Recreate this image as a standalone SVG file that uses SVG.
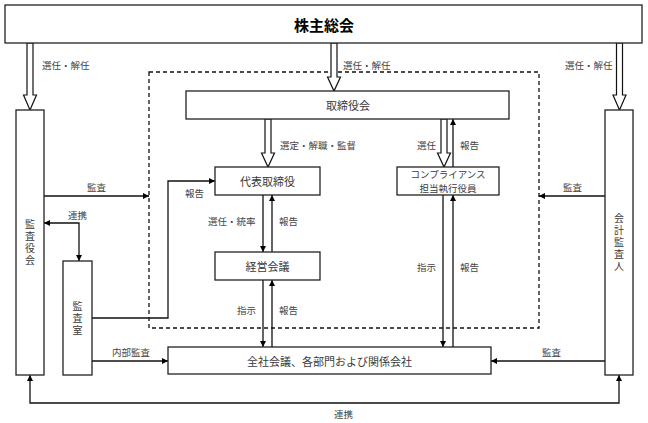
<svg xmlns="http://www.w3.org/2000/svg" width="648" height="423" viewBox="0 0 648 423">
<defs>
<marker id="ah" viewBox="0 0 10 10" refX="10" refY="5" markerWidth="6" markerHeight="6" markerUnits="userSpaceOnUse" orient="auto-start-reverse">
<path d="M0,0 L10,5 L0,10 z" fill="#000"/>
</marker>
<style>
.box{fill:#fff;stroke:#222;stroke-width:1.3}
.t{font-family:"Noto Sans CJK JP","Noto Sans",sans-serif;font-size:11px;fill:#3a3a3a;text-anchor:middle;dominant-baseline:central}
.vt{font-family:"Noto Sans CJK JP","Noto Sans",sans-serif;font-size:10px;fill:#3a3a3a;text-anchor:middle;writing-mode:vertical-rl;letter-spacing:2px}
.lb{font-family:"Noto Sans CJK JP","Noto Sans",sans-serif;font-size:9.5px;fill:#444;dominant-baseline:central}
.ln{fill:none;stroke:#111;stroke-width:1.3}
.ar{marker-end:url(#ah)}
.da{marker-start:url(#ah);marker-end:url(#ah)}
.hollow{fill:#fff;stroke:#111;stroke-width:1.2}
.dash{fill:none;stroke:#111;stroke-width:1.3;stroke-dasharray:4 3}
</style>
</defs>
<rect width="648" height="423" fill="#fff"/>

<rect id="scope" class="dash" x="149" y="72" width="390" height="256"/>

<g id="connectors">
<line class="ln ar" x1="44" y1="196" x2="149" y2="196"/>
<line class="ln ar" x1="605" y1="196" x2="539" y2="196"/>
<polyline class="ln da" points="44,223 79,223 79,261"/>
<polyline class="ln ar" points="92,318 168,318 168,181 215,181"/>
<line class="ln ar" x1="92" y1="361" x2="168" y2="361"/>
<line class="ln ar" x1="605" y1="361" x2="491" y2="361"/>
<polyline class="ln da" points="30,375 30,403 619,403 619,375"/>
<line class="ln ar" x1="263" y1="195" x2="263" y2="252"/>
<line class="ln ar" x1="272" y1="252" x2="272" y2="195"/>
<line class="ln ar" x1="263" y1="280" x2="263" y2="347"/>
<line class="ln ar" x1="272" y1="347" x2="272" y2="280"/>
<line class="ln ar" x1="453" y1="167" x2="453" y2="119"/>
<line class="ln ar" x1="443" y1="195" x2="443" y2="347"/>
<line class="ln ar" x1="453" y1="347" x2="453" y2="195"/>
<polygon class="hollow" points="27,43 27,95 23.5,95 30,110 36.5,95 33,95 33,43"/>
<polygon class="hollow" points="331,43 331,77 327.5,77 334,91 340.5,77 337,77 337,43"/>
<polygon class="hollow" points="616.5,43 616.5,95 613,95 619.5,110 626,95 622.5,95 622.5,43"/>
<polygon class="hollow" points="265,119 265,153 261.5,153 268,167 274.5,153 271,153 271,119"/>
<polygon class="hollow" points="441,119 441,153 437.5,153 444,167 450.5,153 447,153 447,119"/>
</g>

<g id="labels">
<text class="lb" x="42" y="65">選任・解任</text>
<text class="lb" x="343" y="65">選任・解任</text>
<text class="lb" x="565" y="65">選任・解任</text>
<text class="lb" x="280" y="145">選定・解職・監督</text>
<text class="lb" x="417" y="145">選任</text>
<text class="lb" x="460" y="145">報告</text>
<text class="lb" x="87" y="187">監査</text>
<text class="lb" x="563" y="187">監査</text>
<text class="lb" x="68" y="215">連携</text>
<text class="lb" x="185" y="193">報告</text>
<text class="lb" x="208" y="221">選任・統率</text>
<text class="lb" x="279" y="221">報告</text>
<text class="lb" x="237" y="310">指示</text>
<text class="lb" x="279" y="310">報告</text>
<text class="lb" x="417" y="267">指示</text>
<text class="lb" x="460" y="267">報告</text>
<text class="lb" x="112" y="352">内部監査</text>
<text class="lb" x="542" y="352">監査</text>
<text class="lb" x="334" y="414">連携</text>
</g>

<g id="shareholders">
<rect class="box" x="5" y="5" width="637" height="38" stroke-width="1.6"/>
<text class="t" x="324" y="24" style="font-size:15px;font-weight:bold;fill:#000">株主総会</text>
</g>
<g id="board">
<rect class="box" x="186" y="91" width="323" height="28"/>
<text class="t" x="348" y="105">取締役会</text>
</g>
<g id="representative">
<rect class="box" x="215" y="167" width="105" height="28"/>
<text class="t" x="267.5" y="181">代表取締役</text>
</g>
<g id="management">
<rect class="box" x="215" y="252" width="105" height="28"/>
<text class="t" x="267.5" y="266">経営会議</text>
</g>
<g id="compliance">
<rect class="box" x="397" y="167" width="102" height="28"/>
<text class="t" style="font-size:9.5px"><tspan x="448" y="174">コンプライアンス</tspan><tspan x="448" y="188">担当執行役員</tspan></text>
</g>
<g id="company">
<rect class="box" x="168" y="347" width="323" height="27"/>
<text class="t" x="329.5" y="361">全社会議、各部門および関係会社</text>
</g>
<g id="auditboard">
<rect class="box" x="16" y="110" width="28" height="265"/>
<text class="vt" x="30" y="243.5">監査役会</text>
</g>
<g id="auditoffice">
<rect class="box" x="63" y="261" width="29" height="114"/>
<text class="vt" x="77.5" y="319">監査室</text>
</g>
<g id="accountant">
<rect class="box" x="605" y="110" width="28" height="265"/>
<text class="vt" x="619" y="243">会計監査人</text>
</g>
</svg>
